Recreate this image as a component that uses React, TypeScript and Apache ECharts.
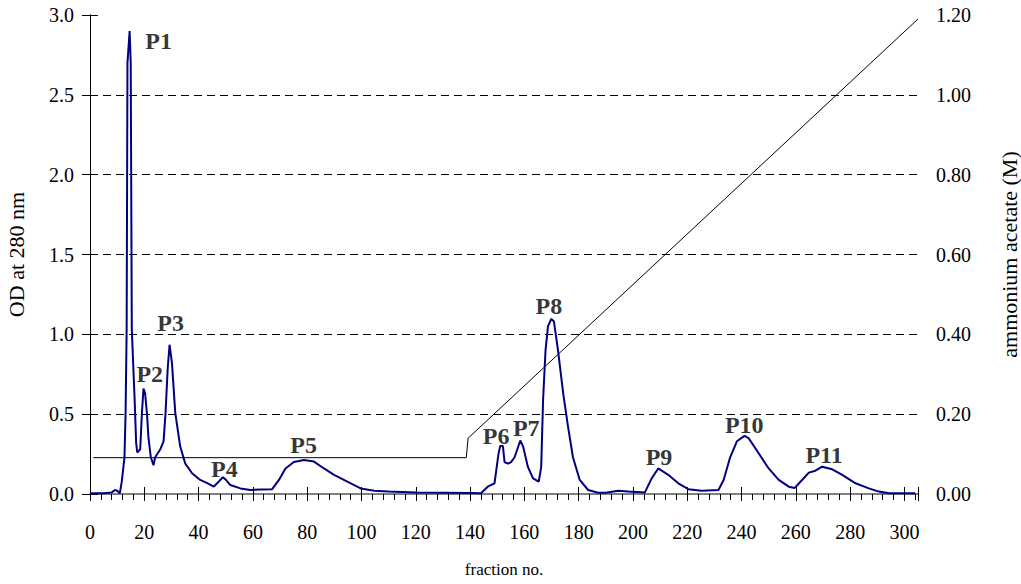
import React, { useEffect, useRef } from "react";
import * as echarts from "echarts";

// Absorbance (OD 280 nm) vs fraction number
const odPoints: [number, number][] = [
  [0, 0.005], [5, 0.005], [8, 0.01], [9.2, 0.025], [10, 0.02], [11, 0.005],
  [11.7, 0.077], [12.7, 0.23], [13.1, 0.5], [13.5, 1.03], [13.8, 2.7], [14.6, 2.9],
  [15.0, 2.7], [15.4, 1.03], [16.4, 0.61], [17.0, 0.32], [17.4, 0.26], [18.5, 0.28],
  [19.1, 0.5], [19.7, 0.66], [20.3, 0.63], [21.0, 0.5], [21.5, 0.36], [22.4, 0.23],
  [23.4, 0.18], [24.0, 0.23], [25.9, 0.28], [27.1, 0.33], [27.8, 0.5], [28.6, 0.78],
  [29.3, 0.935], [30.2, 0.82], [31.4, 0.51], [33.2, 0.3], [35.1, 0.19], [37.6, 0.13],
  [40.6, 0.088], [43, 0.07], [45.6, 0.046], [47, 0.07], [48.9, 0.105], [50, 0.09],
  [51.7, 0.056], [55.4, 0.035], [59.1, 0.025], [63, 0.028], [67.1, 0.03], [69.6, 0.088],
  [72, 0.16], [75.1, 0.2], [78.8, 0.213], [82.5, 0.203], [86.2, 0.16], [89.9, 0.12],
  [94.8, 0.077], [99.7, 0.035], [104.7, 0.02], [110, 0.015], [120, 0.01], [130, 0.008],
  [140, 0.006], [144, 0.005], [146.5, 0.046], [149, 0.067], [150.5, 0.255], [151.1, 0.3],
  [152.1, 0.3], [152.7, 0.2], [153.9, 0.19], [155.1, 0.2], [156.4, 0.23], [158.5, 0.335],
  [159.5, 0.3], [161.3, 0.17], [163.2, 0.098], [165.3, 0.077], [166.2, 0.17], [166.9, 0.59],
  [167.8, 0.9], [168.7, 1.05], [169.9, 1.096], [170.9, 1.08], [172.4, 0.9], [174.3, 0.63],
  [176.1, 0.42], [177.9, 0.23], [180.4, 0.088], [183.5, 0.025], [187.2, 0.008], [190, 0.008],
  [194.6, 0.02], [198.3, 0.015], [204.4, 0.01], [206.9, 0.098], [209.3, 0.16], [213, 0.12],
  [216.7, 0.067], [220.4, 0.03], [225.3, 0.02], [231.5, 0.025], [233.4, 0.088], [235.8, 0.23],
  [238.3, 0.33], [241.1, 0.364], [242.6, 0.35], [246.3, 0.255], [250, 0.16], [253.7, 0.088],
  [257.4, 0.046], [259.6, 0.038], [262.3, 0.088], [264.8, 0.134], [267.2, 0.146], [269.7, 0.171],
  [273.4, 0.155], [277.1, 0.12], [282, 0.067], [286.9, 0.035], [290.6, 0.015], [294.3, 0.005],
  [304, 0.005],
];

// Ammonium acetate gradient (M)
const gradientPoints: [number, number][] = [
  [1.2, 0.091], [138.6, 0.091], [139.3, 0.14], [305, 1.19],
];

// Peak labels: name, fraction, OD
const peakNames = ["P1", "P2", "P3", "P4", "P5", "P6", "P7", "P8", "P9", "P10", "P11"];
const peakX = [25.3, 22.0, 29.7, 49.5, 78.7, 149.6, 160.7, 169.0, 209.6, 241.0, 270.4];
const peakY = [2.84, 0.75, 1.07, 0.157, 0.307, 0.363, 0.413, 1.18, 0.234, 0.432, 0.246];

const xTicks = { min: 0, max: 305, interval: 20 };
const odTicks = { min: 0, max: 3, interval: 0.5 };
const saltTicks = { min: 0, max: 1.2, interval: 0.2 };

const FONT = "'Liberation Serif', 'Times New Roman', serif";

export default function App() {
  const ref = useRef<HTMLDivElement>(null);
  useEffect(() => {
    if (!ref.current) return;
    const chart = echarts.init(ref.current, undefined, { renderer: "svg" });
    chart.setOption({
      animation: false,
      backgroundColor: "#fff",
      textStyle: { fontFamily: FONT },
      grid: { left: 90, right: 103, top: 15, bottom: 90, outerBoundsMode: "none", containLabel: false },
      xAxis: [
        {
          type: "value", ...xTicks, position: "bottom",
          axisLine: { show: true, lineStyle: { color: "#808080", width: 2 } },
          axisTick: { show: true, length: 7, lineStyle: { color: "#000" } },
          minorTick: { show: true, splitNumber: 5, length: 6, lineStyle: { color: "#000" } },
          axisLabel: {
            margin: 28, fontSize: 20, color: "#000", fontFamily: FONT,
            formatter: (v: number) => (v % 20 === 0 ? String(v) : ""),
          },
          splitLine: { show: false },
          name: "fraction no.", nameLocation: "middle", nameGap: 67,
          nameTextStyle: { fontSize: 17, color: "#000", fontFamily: FONT },
        },
        {
          type: "value", ...xTicks, position: "bottom",
          axisLine: { show: false },
          axisTick: { show: true, inside: true, length: 7, lineStyle: { color: "#000" } },
          axisLabel: { show: false },
          splitLine: { show: false },
        },
        {
          type: "value", ...xTicks, position: "top",
          axisLine: { show: true, lineStyle: { color: "#808080", width: 1 } },
          axisTick: { show: false },
          axisLabel: { show: false },
          splitLine: { show: false },
        },
      ],
      yAxis: [
        {
          type: "value", ...odTicks, position: "left",
          axisLine: { show: true, lineStyle: { color: "#000", width: 1 } },
          axisTick: { show: true, length: 7, lineStyle: { color: "#000" } },
          axisLabel: {
            margin: 16, fontSize: 20, color: "#000", fontFamily: FONT,
            formatter: (v: number) => v.toFixed(1),
          },
          splitLine: {
            show: true, showMinLine: false, showMaxLine: false,
            lineStyle: { color: "#000", width: 1, type: [8, 5] },
          },
          name: "OD at 280 nm", nameLocation: "middle", nameGap: 63,
          nameTextStyle: { fontSize: 22, color: "#000", fontFamily: FONT },
        },
        {
          type: "value", ...saltTicks, position: "right",
          axisLine: { show: true, lineStyle: { color: "#000", width: 1 } },
          axisTick: { show: true, length: 8, lineStyle: { color: "#000" } },
          axisLabel: {
            margin: 18, fontSize: 20, color: "#000", fontFamily: FONT,
            formatter: (v: number) => v.toFixed(2),
          },
          splitLine: { show: false },
          name: "ammonium acetate (M)", nameLocation: "middle", nameGap: 80, nameRotate: 90,
          nameTextStyle: { fontSize: 22, color: "#000", fontFamily: FONT },
        },
        {
          type: "value", ...saltTicks, position: "right",
          axisLine: { show: false },
          axisTick: { show: true, inside: true, length: 8, lineStyle: { color: "#000" } },
          axisLabel: { show: false },
          splitLine: { show: false },
        },
      ],
      series: [
        {
          type: "line", name: "gradient", xAxisIndex: 0, yAxisIndex: 1,
          data: gradientPoints, showSymbol: false, symbol: "none",
          lineStyle: { color: "#000", width: 1 }, z: 2,
        },
        {
          type: "line", name: "OD", xAxisIndex: 0, yAxisIndex: 0,
          data: odPoints, showSymbol: false, symbol: "none",
          lineStyle: { color: "#000080", width: 2 }, z: 3,
        },
        {
          type: "scatter", xAxisIndex: 0, yAxisIndex: 0, symbolSize: 0,
          data: peakNames.map((n, i) => ({ name: n, value: [peakX[i], peakY[i]] })),
          label: {
            show: true, position: "inside", formatter: "{b}",
            fontSize: 24, fontWeight: "bold", color: "#000", fontFamily: FONT,
          },
          z: 4,
        },
      ],
    });
    return () => chart.dispose();
  }, []);
  return (
    <div
      ref={ref}
      style={{ position: "fixed", left: 0, top: 0, width: 1021, height: 584 }}
    />
  );
}
